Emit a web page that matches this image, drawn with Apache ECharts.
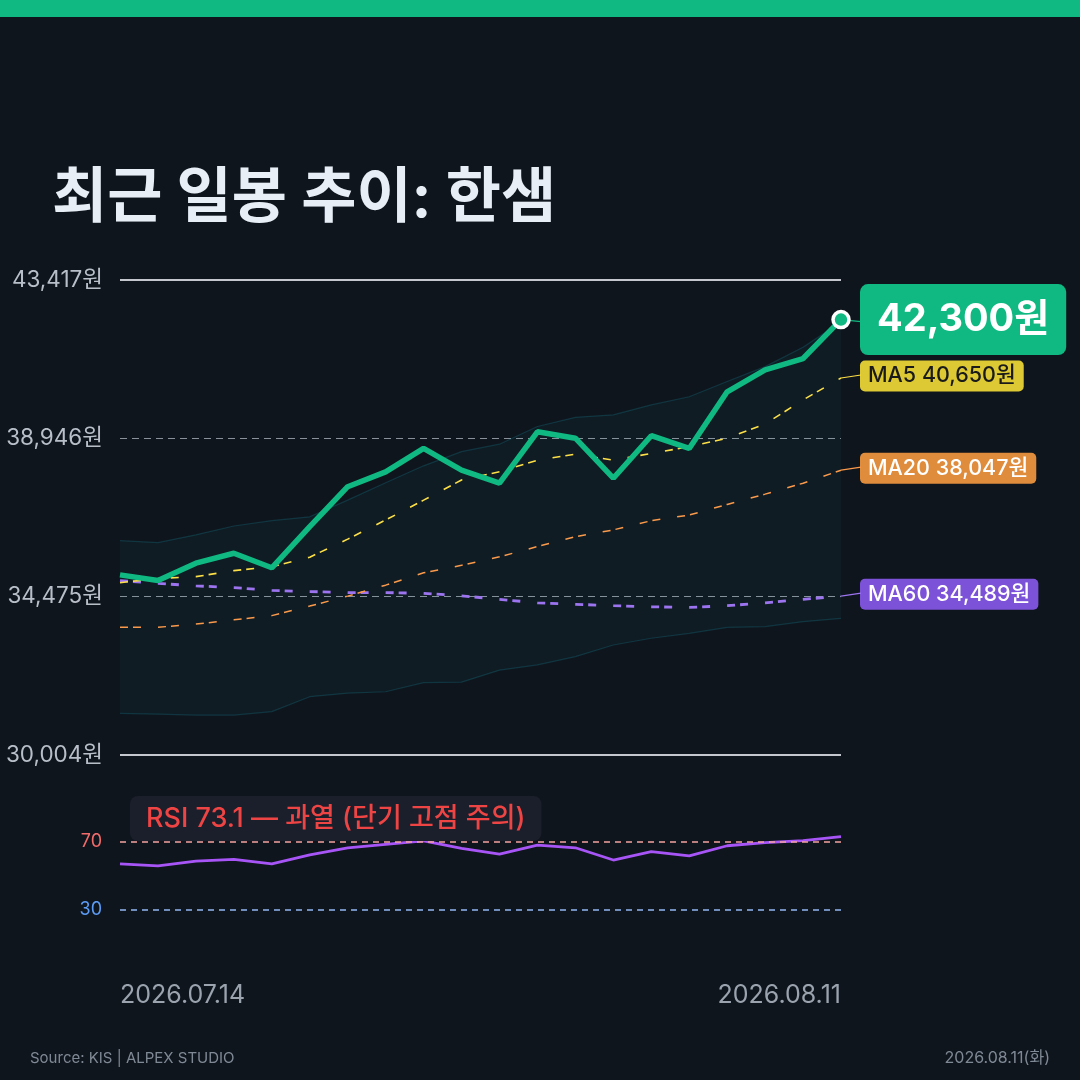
<!DOCTYPE html>
<html>
<head>
<meta charset="utf-8">
<script src="https://cdn.jsdelivr.net/npm/echarts@6/dist/echarts.min.js"></script>
<style>
  html, body { margin: 0; padding: 0; background: #0f151d; }
  #chart { width: 1080px; height: 1080px; }
</style>
</head>
<body>
<div id="chart"></div>
<script>
// 한샘 최근 일봉 (20 거래일)
const dates = [
  "2026.07.14", "2026.07.15", "2026.07.16", "2026.07.20", "2026.07.21",
  "2026.07.22", "2026.07.23", "2026.07.24", "2026.07.27", "2026.07.28",
  "2026.07.29", "2026.07.30", "2026.07.31", "2026.08.03", "2026.08.04",
  "2026.08.05", "2026.08.06", "2026.08.07", "2026.08.10", "2026.08.11"
];
const closes = [35090, 34930, 35420, 35700, 35290, 36450, 37580, 38000, 38660, 38050,
                37680, 39130, 38950, 37820, 39020, 38660, 40260, 40880, 41200, 42300];
const ma5 = [34870, 34990, 35040, 35210, 35320, 35590, 36100, 36640, 37200, 37770,
             38000, 38330, 38500, 38330, 38520, 38710, 38950, 39350, 40030, 40650];
const ma20 = [33610, 33610, 33700, 33820, 33940, 34210, 34490, 34800, 35150, 35360,
              35600, 35890, 36170, 36360, 36620, 36780, 37080, 37370, 37680, 38047];
const ma60 = [34930, 34850, 34780, 34730, 34650, 34620, 34590, 34590, 34570, 34500,
              34400, 34300, 34260, 34220, 34190, 34170, 34220, 34300, 34400, 34489];
const bbUpper = [36060, 36000, 36220, 36470, 36620, 36730, 37200, 37690, 38170, 38570,
                 38780, 39280, 39540, 39610, 39890, 40120, 40550, 40970, 41520, 42230];
const bbLower = [31180, 31160, 31130, 31130, 31230, 31650, 31750, 31790, 32050, 32060,
                 32400, 32550, 32780, 33110, 33300, 33440, 33610, 33630, 33770, 33860];
const rsi = [57.1, 55.9, 58.8, 59.8, 57.1, 62.4, 66.6, 68.6, 70.6, 66.3,
             62.9, 68.2, 66.6, 59.4, 64.3, 61.8, 67.8, 69.6, 70.8, 73.1];
const priceTicks = [30004, 34475, 38946, 43417];
const rsiLevels = [30, 70];

const FONT = "Inter, 'Noto Sans CJK KR', sans-serif";
const last = dates.length - 1;
const won = v => v.toLocaleString("en-US") + "원";

// 밴드 폭 (스택용)
const bbWidth = bbUpper.map((u, i) => u - bbLower[i]);

const maDash = [8, 5, 8, 17];

function maSeries(name, data, color, width, boxColor, textColor) {
  return {
    name, type: "line", data,
    xAxisIndex: 0, yAxisIndex: 0,
    symbol: "none", z: 3, silent: true,
    lineStyle: { color, width, type: maDash },
    endLabel: {
      show: true,
      formatter: () => `${name} ${won(data[last])}`,
      distance: 19, offset: [0, -2],
      backgroundColor: boxColor, color: textColor,
      fontFamily: FONT, fontSize: 21.5, fontWeight: 500,
      padding: [5, 8, 5, 8], borderRadius: 5, lineHeight: 21
    }
  };
}

const chart = echarts.init(document.getElementById("chart"));

const option = {
  backgroundColor: "#0f151d",
  animation: false,
  textStyle: { fontFamily: FONT },
  grid: [
    { left: 120, top: 280, width: 721, height: 475 },
    { left: 120, top: 791, width: 721, height: 170 }
  ],
  xAxis: [
    { type: "category", gridIndex: 0, data: dates, boundaryGap: false, show: false },
    {
      type: "category", gridIndex: 1, data: dates, boundaryGap: false,
      axisLine: { show: false }, axisTick: { show: false },
      axisLabel: {
        interval: i => i === 0 || i === last,
        color: "#9aa3ae", fontSize: 25, margin: 22, fontFamily: FONT,
        alignMinLabel: "left", alignMaxLabel: "right"
      }
    }
  ],
  yAxis: [
    {
      type: "value", gridIndex: 0,
      min: priceTicks[0], max: priceTicks[priceTicks.length - 1],
      interval: priceTicks[1] - priceTicks[0],
      axisLine: { show: false }, axisTick: { show: false },
      axisLabel: { formatter: v => won(v), color: "#b9bfc8", fontSize: 22.5, margin: 17, fontFamily: FONT },
      splitLine: { lineStyle: { color: "#8a9099", width: 1.2, type: [7, 5] } }
    },
    {
      type: "value", gridIndex: 1, min: 0, max: 100, interval: 10,
      axisLine: { show: false }, axisTick: { show: false },
      splitLine: { show: false },
      axisLabel: {
        formatter: v => rsiLevels.includes(Number(v)) ? String(v) : "",
        color: v => (Number(v) === 70 ? "#f26b6b" : "#5b9cf6"),
        fontSize: 18, margin: 18, fontFamily: FONT
      }
    }
  ],
  series: [
    {
      name: "BB하단", type: "line", data: bbLower, stack: "bb",
      xAxisIndex: 0, yAxisIndex: 0, symbol: "none", z: 1, silent: true,
      lineStyle: { color: "rgba(34,211,238,0.16)", width: 1.2 },
      markLine: {
        silent: true, symbol: "none", label: { show: false },
        lineStyle: { color: "#c4c8ce", width: 2, type: "solid" },
        data: [{ yAxis: priceTicks[0] }, { yAxis: priceTicks[priceTicks.length - 1] }]
      }
    },
    {
      name: "BB폭", type: "line", data: bbWidth, stack: "bb",
      xAxisIndex: 0, yAxisIndex: 0, symbol: "none", z: 1, silent: true,
      lineStyle: { color: "rgba(34,211,238,0.16)", width: 1.2 },
      areaStyle: { color: "rgba(34,211,238,0.055)" }
    },
    maSeries("MA60", ma60, "#9d74f0", 2.8, "#7c52d8", "#ffffff"),
    maSeries("MA20", ma20, "#fb9a4b", 1.5, "#df8c3c", "#ffffff"),
    maSeries("MA5", ma5, "#fde047", 1.6, "#dcc934", "#1a1a1a"),
    {
      name: "종가", type: "line", data: closes,
      xAxisIndex: 0, yAxisIndex: 0, z: 5, silent: true,
      showSymbol: true, symbol: "circle",
      symbolSize: (v, p) => (p.dataIndex === last ? 16 : 0),
      itemStyle: { color: "#10b981", borderColor: "#ffffff", borderWidth: 3.5 },
      lineStyle: { color: "#10b981", width: 5.5 },
      endLabel: {
        show: true, formatter: () => won(closes[last]),
        distance: 19,
        backgroundColor: "#10b981", color: "#ffffff",
        fontFamily: FONT, fontSize: 38, fontWeight: 700,
        padding: [14, 17, 14, 17], borderRadius: 8, lineHeight: 43
      }
    },
    {
      name: "RSI", type: "line", data: rsi,
      xAxisIndex: 1, yAxisIndex: 1, symbol: "none", z: 3, silent: true,
      lineStyle: { color: "#a855f7", width: 2.8 },
      markLine: {
        silent: true, symbol: "none", label: { show: false },
        data: [
          { yAxis: 70, lineStyle: { color: "#f5a3a0", width: 1.5, type: [6, 5] } },
          { yAxis: 30, lineStyle: { color: "#93b7f2", width: 1.5, type: [6, 5] } }
        ]
      }
    }
  ],
  graphic: [
    { type: "rect", left: 0, top: 0, shape: { width: 1080, height: 17 }, style: { fill: "#10b981" } },
    {
      type: "text", x: 52, y: 199,
      style: { text: "최근 일봉 추이: 한샘", fill: "#e8eef6", font: `700 60px ${FONT}`, verticalAlign: "middle" }
    },
    {
      type: "text", x: 130, y: 796, z: 10,
      style: {
        text: `RSI ${rsi[last].toFixed(1)} — 과열 (단기 고점 주의)`,
        fill: "#ef4444", font: `500 27px ${FONT}`, verticalAlign: "top",
        backgroundColor: "#1b1e2b", padding: [8, 16, 8, 16], borderRadius: 8, lineHeight: 29
      }
    },
    {
      type: "text", x: 30, y: 1058,
      style: { text: "Source: KIS | ALPEX STUDIO", fill: "#7f8995", font: `400 15px ${FONT}`, verticalAlign: "middle" }
    },
    {
      type: "text", x: 1050, y: 1058,
      style: { text: "2026.08.11(화)", fill: "#7f8995", font: `400 16px ${FONT}`, verticalAlign: "middle", align: "right" }
    }
  ]
};

chart.setOption(option);

// 라벨 연결선
const links = [
  { data: closes, color: "#10b981", dy: 2 },
  { data: ma5, color: "#fde047", dy: -3 },
  { data: ma20, color: "#fb9a4b", dy: -3 },
  { data: ma60, color: "#9d74f0", dy: -3 }
];
const extra = links.map(l => {
  const p = chart.convertToPixel({ gridIndex: 0 }, [last, l.data[last]]);
  return {
    type: "line", z: 4, silent: true,
    shape: { x1: p[0], y1: p[1], x2: p[0] + 20, y2: p[1] + l.dy },
    style: { stroke: l.color, lineWidth: 1.2 }
  };
});
chart.setOption({ graphic: option.graphic.concat(extra) });
</script>
</body>
</html>
